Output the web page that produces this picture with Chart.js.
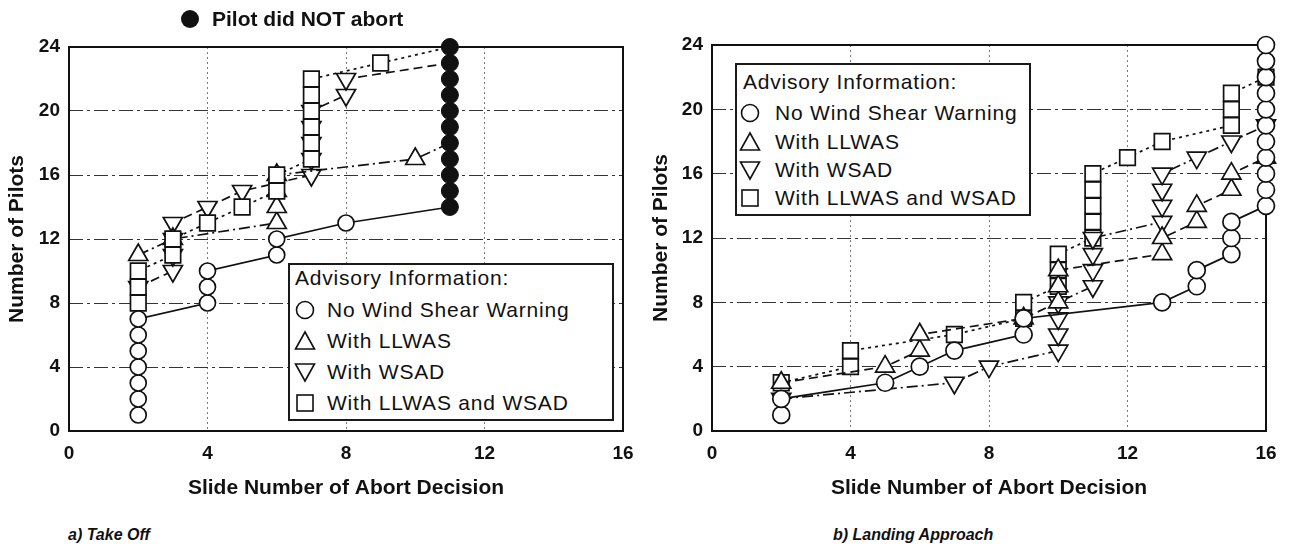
<!DOCTYPE html>
<html>
<head>
<meta charset="utf-8">
<title>Abort decisions</title>
<script src="https://cdn.jsdelivr.net/npm/chart.js@4.4.1/dist/chart.umd.min.js"></script>
<style>
  body { margin: 0; background: #fff; }
  #page { position: relative; width: 1296px; height: 548px; overflow: hidden; font-family: "Liberation Sans", Arial, sans-serif; color: #111; }
  canvas { position: absolute; top: 0; }
  .legend { position: absolute; border: 2px solid #1a1a1a; background: #fff; box-sizing: border-box; font-size: 21px; letter-spacing: 0.8px; }
  .legend div { position: absolute; white-space: nowrap; line-height: 24px; }
  .legend svg { position: absolute; }
  .caption { position: absolute; font-size: 16px; font-weight: bold; font-style: italic; white-space: nowrap; }
  #notAbort { position: absolute; left: 181px; top: 7px; font-size: 21px; font-weight: bold; line-height: 24px; white-space: nowrap; }
  #notAbort span { display: inline-block; width: 18px; height: 18px; border-radius: 50%; background: #111; vertical-align: -2px; margin-right: 13px; }
</style>
</head>
<body>
<div id="page">
  <canvas id="takeOff" width="645" height="510" style="left:0"></canvas>
  <canvas id="landing" width="651" height="510" style="left:645px"></canvas>
  <div id="notAbort"><span></span>Pilot did NOT abort</div>
  <div class="legend" id="legA" style="left:288px;top:263px;width:326px;height:158px"></div>
  <div class="legend" id="legB" style="left:735px;top:63px;width:296px;height:153px"></div>
  <div class="caption" style="left:68px;top:526px">a) Take Off</div>
  <div class="caption" style="left:833px;top:526px">b) Landing Approach</div>
</div>
<script>
// axes
const xTicks = [0, 4, 8, 12, 16];
const yTicks = [0, 4, 8, 12, 16, 20, 24];
const xTitle = 'Slide Number of Abort Decision';
const yTitle = 'Number of Pilots';
const legendTitle = 'Advisory Information:';
const seriesNames = ['No Wind Shear Warning', 'With LLWAS', 'With WSAD', 'With LLWAS and WSAD'];

// a) Take Off - cumulative pilots per abort slide
const toNoWarnX = [2, 2, 2, 2, 2, 2, 2, 4, 4, 4, 6, 6, 8, 11];
const toNoWarnY = [1, 2, 3, 4, 5, 6, 7, 8, 9, 10, 11, 12, 13, 14];
const toLlwasX = [2, 3, 6, 6, 6, 6, 10, 11];
const toLlwasY = [11, 12, 13, 14, 15, 16, 17, 18];
const toWsadX = [2, 3, 3, 3, 3, 4, 5, 7, 7, 7, 7, 7, 8, 8, 11];
const toWsadY = [9, 10, 11, 12, 13, 14, 15, 16, 17, 18, 19, 20, 21, 22, 23];
const toBothX = [2, 2, 2, 3, 3, 4, 5, 6, 6, 7, 7, 7, 7, 7, 7, 9, 11];
const toBothY = [8, 9, 10, 11, 12, 13, 14, 15, 16, 17, 18, 19, 20, 21, 22, 23, 24];
const notAbortX = [11, 11, 11, 11, 11, 11, 11, 11, 11, 11, 11];
const notAbortY = [14, 15, 16, 17, 18, 19, 20, 21, 22, 23, 24];

// b) Landing Approach
const laNoWarnX = [2, 2, 5, 6, 7, 9, 9, 13, 14, 14, 15, 15, 15, 16, 16, 16, 16, 16, 16, 16, 16, 16, 16, 16];
const laNoWarnY = [1, 2, 3, 4, 5, 6, 7, 8, 9, 10, 11, 12, 13, 14, 15, 16, 17, 18, 19, 20, 21, 22, 23, 24];
const laLlwasX = [2, 5, 6, 6, 9, 10, 10, 10, 13, 13, 14, 14, 15, 15, 16];
const laLlwasY = [3, 4, 5, 6, 7, 8, 9, 10, 11, 12, 13, 14, 15, 16, 17];
const laWsadX = [2, 7, 8, 10, 10, 10, 10, 11, 11, 11, 11, 13, 13, 13, 13, 14, 15, 16];
const laWsadY = [2, 3, 4, 5, 6, 7, 8, 9, 10, 11, 12, 13, 14, 15, 16, 17, 18, 19];
const laBothX = [2, 4, 4, 7, 9, 9, 10, 10, 10, 11, 11, 11, 11, 11, 12, 13, 15, 15, 15, 16];
const laBothY = [3, 4, 5, 6, 7, 8, 9, 10, 11, 12, 13, 14, 15, 16, 17, 18, 19, 20, 21, 22];

const ink = '#111';
const fontFamily = '"Liberation Sans", Arial, sans-serif';
const DOT = [3, 4], DASH = [9, 5], DASHDOT = [11, 4, 2, 4];

function pts(xs, ys) {
    return xs.map((x, i) => ({ x: x, y: ys[i] }));
}

function series(label, xs, ys, style, rot, radius, dash, hideLast) {
    return {
        label: label,
        data: pts(xs, ys),
        showLine: true,
        clip: false,
        borderColor: ink,
        borderWidth: 1.7,
        borderDash: dash,
        pointStyle: style,
        rotation: rot,
        backgroundColor: '#fff',
        pointBackgroundColor: '#fff',
        pointBorderColor: ink,
        pointBorderWidth: 1.7,
        pointRadius: hideLast ? (c => c.dataIndex === xs.length - 1 ? 0 : radius) : radius
    };
}

// closed frame around the plot area
const frame = {
    id: 'frame',
    beforeDatasetsDraw(chart) {
        const { ctx, chartArea: a } = chart;
        ctx.save();
        ctx.strokeStyle = ink;
        ctx.lineWidth = 2;
        ctx.strokeRect(a.left, a.top, a.right - a.left, a.bottom - a.top);
        ctx.restore();
    }
};

function makeChart(id, datasets, box) {
    new Chart(document.getElementById(id), {
        type: 'scatter',
        data: { datasets: datasets },
        options: {
            responsive: false,
            animation: false,
            devicePixelRatio: 1,
            layout: { padding: { top: box.top, right: box.right, left: 0, bottom: 0 } },
            plugins: { legend: { display: false }, tooltip: { enabled: false } },
            scales: {
                x: {
                    type: 'linear', min: 0, max: 16,
                    afterBuildTicks: s => { s.ticks = xTicks.map(v => ({ value: v })); },
                    afterFit: s => { s.height = 79; },
                    grid: {
                        drawTicks: false, lineWidth: 1,
                        color: c => (c.tick && (c.tick.value === 0 || c.tick.value === 16)) ? 'rgba(0,0,0,0)' : '#7a7a7a'
                    },
                    border: { display: false, dash: [2, 3] },
                    ticks: { padding: 11, color: ink, font: { family: fontFamily, size: 19, weight: 'bold' } },
                    title: {
                        display: true, text: xTitle, color: ink,
                        font: { family: fontFamily, size: 21, weight: 'bold' },
                        padding: { top: 0, bottom: 9 }
                    }
                },
                y: {
                    type: 'linear', min: 0, max: 24,
                    afterBuildTicks: s => { s.ticks = yTicks.map(v => ({ value: v })); },
                    afterFit: s => { s.width = box.yWidth; },
                    grid: {
                        drawTicks: false, lineWidth: 1,
                        color: c => (c.tick && (c.tick.value === 0 || c.tick.value === 24)) ? 'rgba(0,0,0,0)' : '#333'
                    },
                    border: { display: false, dash: [14, 4, 3, 4] },
                    ticks: { padding: 9, color: ink, font: { family: fontFamily, size: 19, weight: 'bold' } },
                    title: {
                        display: true, text: yTitle, color: ink,
                        font: { family: fontFamily, size: 21, weight: 'bold' },
                        padding: { top: box.titlePad, bottom: 0 }
                    }
                }
            }
        },
        plugins: [frame]
    });
}

// dataset 0 is painted last, so the black dots sit on top and squares cover the WSAD triangles
makeChart('takeOff', [
    {
        label: 'Pilot did NOT abort', data: pts(notAbortX, notAbortY), showLine: false, clip: false,
        pointStyle: 'circle', pointRadius: 8.5, pointBackgroundColor: ink, pointBorderColor: ink, pointBorderWidth: 1
    },
    series(seriesNames[0], toNoWarnX, toNoWarnY, 'circle', 0, 8, [], true),
    series(seriesNames[3], toBothX, toBothY, 'rect', 0, 11, DOT, true),
    series(seriesNames[1], toLlwasX, toLlwasY, 'triangle', 0, 11, DASHDOT, true),
    series(seriesNames[2], toWsadX, toWsadY, 'triangle', 180, 11, DASH, true)
], { top: 47, right: 22, yWidth: 69, titlePad: 5 });

makeChart('landing', [
    series(seriesNames[0], laNoWarnX, laNoWarnY, 'circle', 0, 8.5, [], false),
    series(seriesNames[1], laLlwasX, laLlwasY, 'triangle', 0, 11, DASH, false),
    series(seriesNames[2], laWsadX, laWsadY, 'triangle', 180, 11, DASHDOT, false),
    series(seriesNames[3], laBothX, laBothY, 'rect', 0, 11, DOT, false)
], { top: 45, right: 30, yWidth: 67, titlePad: 4 });

// legends
const legendSymbols = [
    '<circle cx="11" cy="11" r="8.5" fill="none" stroke="#111" stroke-width="1.6"/>',
    '<polygon points="11,2 20.5,19 1.5,19" fill="none" stroke="#111" stroke-width="1.6"/>',
    '<polygon points="1.5,3 20.5,3 11,20" fill="none" stroke="#111" stroke-width="1.6"/>',
    '<rect x="3" y="3" width="16" height="16" fill="none" stroke="#111" stroke-width="1.6"/>'
];

function buildLegend(id, tops, titleLeft, symLeft, textLeft) {
    let html = '<div style="left:' + titleLeft + 'px;top:' + tops[0] + 'px">' + legendTitle + '</div>';
    seriesNames.forEach((name, i) => {
        html += '<svg width="22" height="22" style="left:' + symLeft + 'px;top:' + (tops[i + 1] + 1) + 'px">' + legendSymbols[i] + '</svg>';
        html += '<div style="left:' + textLeft + 'px;top:' + tops[i + 1] + 'px">' + name + '</div>';
    });
    document.getElementById(id).innerHTML = html;
}

buildLegend('legA', [1, 33, 64, 95, 126], 5, 4, 37);
buildLegend('legB', [5, 36, 65, 93, 121], 6, 2, 38);
</script>
</body>
</html>
